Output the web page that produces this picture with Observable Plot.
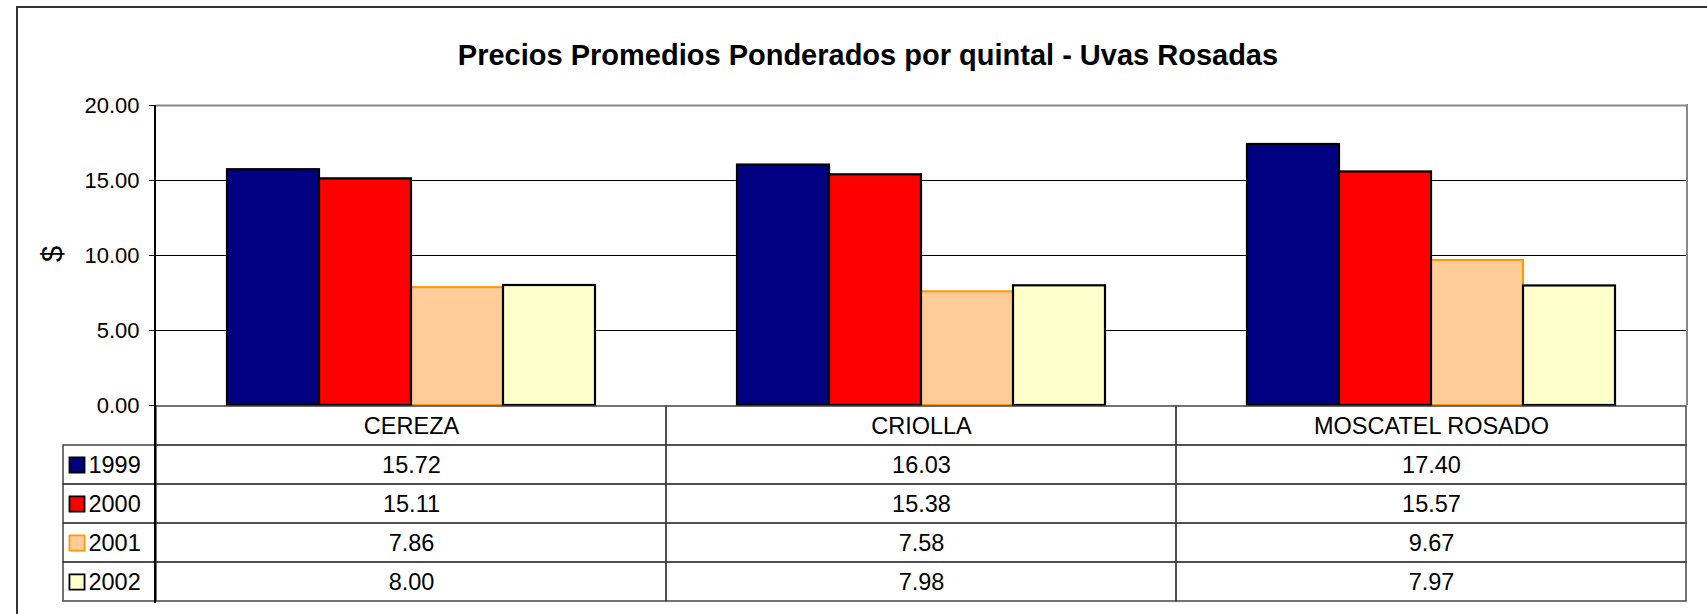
<!DOCTYPE html>
<html>
<head>
<meta charset="utf-8">
<script src="https://cdn.jsdelivr.net/npm/d3@7"></script>
<script src="https://cdn.jsdelivr.net/npm/@observablehq/plot@0.6"></script>
<style>
  html, body { margin: 0; padding: 0; background: #fff; }
  #root { position: relative; width: 1707px; height: 614px; overflow: hidden; background: #fff;
          font-family: "Liberation Sans", Arial, sans-serif; color: #000; }
  .abs { position: absolute; }
  #outer { left: 16px; top: 6px; width: 1760px; height: 700px; border: 2px solid #333; box-sizing: border-box; }
  #title { left: 868px; top: 40.5px; transform: translateX(-50%); white-space: nowrap;
           font-weight: 700; font-size: 29px; line-height: 29px; }
  #ylabel { left: 52px; top: 254px; transform: translate(-50%, -50%) rotate(-90deg);
            font-size: 29px; line-height: 29px; }
  #yline { left: 154px; top: 105px; width: 1.6px; height: 498px; background: #000; }
  #rline { left: 1686px; top: 104px; width: 2px; height: 301px; background: #888; }
  svg { overflow: visible; }
</style>
</head>
<body>
<div id="root">
  <div id="outer" class="abs"></div>
  <div id="title" class="abs">Precios Promedios Ponderados por quintal - Uvas Rosadas</div>
  <div id="ylabel" class="abs">$</div>
  <div id="chart" class="abs" style="left:0;top:0"></div>
  <div id="table" class="abs" style="left:0;top:405px"></div>
  <div id="legend" class="abs"></div>
  <div id="yline" class="abs"></div>
  <div id="rline" class="abs"></div>
</div>
<script>
// ---- data ----
const categories = ["CEREZA", "CRIOLLA", "MOSCATEL ROSADO"];
const years = ["1999", "2000", "2001", "2002"];
const v1999 = [15.72, 16.03, 17.40];
const v2000 = [15.11, 15.38, 15.57];
const v2001 = [7.86, 7.58, 9.67];
const v2002 = [8.00, 7.98, 7.97];
const yTicks = [0, 5, 10, 15, 20];

// ---- styles ----
const fillColors = ["#000080", "#FF0000", "#FFCC99", "#FFFFCC"];
const font = '"Liberation Sans", Arial, sans-serif';

const series = [v1999, v2000, v2001, v2002];
const rows = years.flatMap((y, i) => categories.map((c, j) => ({cat: c, year: y, value: series[i][j]})));

const W = 1707, mL = 155, mR = 20;
const frameTop = 105, frameBottom = 405;

const chart = Plot.plot({
  width: W, height: frameBottom + 25,
  marginTop: frameTop, marginBottom: 25, marginLeft: mL, marginRight: mR,
  style: {fontFamily: font, background: "transparent", overflow: "visible", color: "#000"},
  fx: {domain: categories, padding: 0, axis: null},
  x: {domain: years, paddingInner: 0, paddingOuter: 0.755, axis: null},
  y: {domain: [0, 20], axis: null},
  color: {domain: years, range: fillColors},
  marks: [
    Plot.ruleY(yTicks.filter(t => t > 0 && t < 20), {stroke: "#000", strokeWidth: 1}),
    Plot.ruleY([20], {stroke: "#888", strokeWidth: 2}),
    Plot.axisY({ticks: yTicks, tickFormat: d3.format(".2f"), tickSize: 7, tickPadding: 10,
                fontSize: 22, label: null, stroke: "#000"}),
    Plot.barY(rows.filter(d => d.year === "2001"),
      {fx: "cat", x: "year", y: "value", fill: "year", stroke: "#FF9900", strokeWidth: 2}),
    Plot.barY(rows.filter(d => d.year !== "2001"),
      {fx: "cat", x: "year", y: "value", fill: "year", stroke: "#000", strokeWidth: 2.2})
  ]
});
document.getElementById("chart").appendChild(chart);

// ---- data table ----
const tableRowKeys = ["cat", ...years];
const cells = categories.flatMap((c, j) => [
  {cat: c, row: "cat", label: c},
  ...years.map((y, i) => ({cat: c, row: y, label: series[i][j].toFixed(2)}))
]);
const tableH = 197;
const table = Plot.plot({
  width: W, height: tableH,
  marginTop: 0, marginBottom: 0, marginLeft: mL, marginRight: mR,
  style: {fontFamily: font, background: "transparent", overflow: "visible", color: "#000"},
  fx: {domain: categories, padding: 0, axis: null},
  y: {domain: tableRowKeys, padding: 0, axis: null},
  marks: [
    Plot.cell(cells, {fx: "cat", y: "row", fill: "none", stroke: "#444", strokeWidth: 1.5}),
    Plot.text(cells, {fx: "cat", y: "row", text: "label", fontSize: 23.5, fill: "#000"})
  ]
});
document.getElementById("table").appendChild(table);

// ---- legend column of the table ----
const rowH = tableH / tableRowKeys.length;
const legendEl = document.getElementById("legend");
legendEl.style.left = "63px";
legendEl.style.top = (405 + rowH) + "px";
const legend = Plot.plot({
  width: 92, height: rowH * years.length,
  margin: 0,
  style: {fontFamily: font, background: "transparent", overflow: "visible", color: "#000"},
  y: {domain: years, padding: 0, axis: null},
  color: {domain: years, range: fillColors},
  marks: [
    Plot.cell(years, {y: d => d, fill: "none", stroke: "#444", strokeWidth: 1.5}),
    Plot.dot(years.filter(y => y !== "2001"),
      {y: d => d, fill: d => d, stroke: "#000", strokeWidth: 1.8, symbol: "square", r: 8.5,
       frameAnchor: "left", dx: 13.5}),
    Plot.dot(years.filter(y => y === "2001"),
      {y: d => d, fill: d => d, stroke: "#FF9900", strokeWidth: 1.8, symbol: "square", r: 8.5,
       frameAnchor: "left", dx: 13.5}),
    Plot.text(years, {y: d => d, text: d => d, frameAnchor: "left", textAnchor: "start",
       dx: 25, fontSize: 23.5, fill: "#000"})
  ]
});
legendEl.appendChild(legend);
</script>
</body>
</html>
